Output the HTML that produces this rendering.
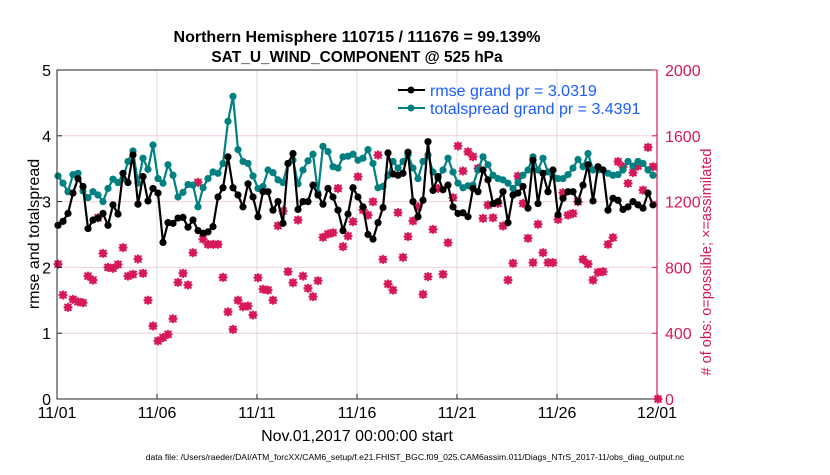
<!DOCTYPE html>
<html><head><meta charset="utf-8"><style>
body{margin:0;background:#fff;width:830px;height:470px;overflow:hidden}
text{font-family:"Liberation Sans",sans-serif}
</style></head><body>
<svg id="chart" width="830" height="470" xmlns="http://www.w3.org/2000/svg">
<rect width="830" height="470" fill="#fff"/>
<text x="357" y="42" text-anchor="middle" font-size="16" font-weight="bold">Northern Hemisphere 110715 / 111676 = 99.139%</text>
<text x="357" y="62" text-anchor="middle" font-size="15.5" font-weight="bold">SAT_U_WIND_COMPONENT @ 525 hPa</text>
<g id="grid"></g>
<g id="marks"></g>
<g id="axes"></g>
<text transform="translate(39,234) rotate(-90)" text-anchor="middle" font-size="16">rmse and totalspread</text>
<text transform="translate(711,262) rotate(-90)" text-anchor="middle" font-size="14.5" fill="#d6195a">#  of obs: o=possible; ×=assimilated</text>
<text x="357" y="441" text-anchor="middle" font-size="16">Nov.01,2017 00:00:00 start</text>
<text x="415" y="460" text-anchor="middle" font-size="8.6">data file: /Users/raeder/DAI/ATM_forcXX/CAM6_setup/f.e21.FHIST_BGC.f09_025.CAM6assim.011/Diags_NTrS_2017-11/obs_diag_output.nc</text>
<g id="legend">
<line x1="398" y1="90" x2="425" y2="90" stroke="#000" stroke-width="2"/><circle cx="411" cy="90" r="3.5" fill="#000"/>
<text x="430" y="96" font-size="16" fill="#1a5cff">rmse grand pr = 3.0319</text>
<line x1="398" y1="108" x2="425" y2="108" stroke="#008080" stroke-width="2"/><circle cx="411" cy="108" r="3.5" fill="#008080"/>
<text x="430" y="114" font-size="16" fill="#1a5cff">totalspread grand pr = 3.4391</text>
</g>
</svg>
<script>
const rmse=[2.64,2.70,2.82,3.13,3.35,3.23,2.59,2.72,2.75,2.82,2.64,2.95,2.81,3.43,3.29,3.71,2.96,3.38,3.01,3.20,3.13,2.38,2.68,2.67,2.75,2.76,2.61,2.72,2.56,2.52,2.54,2.62,3.07,3.21,3.68,3.21,3.10,2.92,3.27,3.07,2.77,3.15,3.15,2.87,3.00,2.67,3.58,3.73,2.88,3.00,3.00,3.25,3.10,2.96,3.20,3.07,2.87,2.56,2.81,3.21,3.07,
2.92,2.50,2.43,2.68,2.91,3.74,3.42,3.40,3.43,3.75,3.00,2.77,3.02,3.91,3.17,3.38,3.18,3.25,2.92,2.82,2.83,2.77,3.20,3.15,3.48,3.33,2.97,3.00,3.15,2.68,3.10,3.13,3.23,2.90,3.63,2.97,3.43,3.15,3.48,2.80,3.05,3.15,3.15,3.00,3.25,3.56,3.01,3.53,3.48,2.87,3.05,3.02,2.88,2.92,3.00,2.95,2.90,3.13,2.95];
const spread=[3.39,3.28,3.15,3.41,3.43,3.16,3.06,3.15,3.10,3.00,3.20,3.34,3.29,3.35,3.61,3.77,3.28,3.66,3.49,3.86,3.35,3.28,3.56,3.40,3.07,3.14,3.26,3.25,2.92,3.21,3.35,3.45,3.43,3.58,4.22,4.60,3.79,3.61,3.58,3.39,3.20,3.23,3.48,3.44,3.33,3.29,3.58,3.63,3.27,3.48,3.62,3.72,3.13,3.84,3.76,3.53,3.51,3.68,3.69,3.72,3.63,
3.66,3.79,3.58,3.21,3.23,3.40,3.61,3.51,3.61,3.71,3.51,3.35,3.61,3.71,3.45,3.35,3.48,3.66,3.45,3.28,3.21,3.24,3.25,3.48,3.68,3.56,3.40,3.35,3.33,3.28,3.20,3.29,3.40,3.48,3.68,3.48,3.66,3.45,3.38,3.35,3.35,3.41,3.51,3.64,3.53,3.73,3.48,3.48,3.48,3.43,3.40,3.41,3.48,3.61,3.54,3.61,3.58,3.48,3.40];
const obs=[820,632,557,606,591,585,747,723,1102,885,800,794,818,920,747,758,851,764,600,444,353,373,393,488,709,764,693,889,1317,972,940,940,940,739,530,423,600,561,565,511,737,667,662,600,1053,1143,774,707,1088,747,673,622,719,983,1003,1011,1280,926,991,1078,1351,
1149,1118,1199,1483,849,699,662,1133,861,987,1082,1169,636,744,1031,1280,758,950,1224,1538,1386,1503,1473,1402,1098,1179,1102,1189,1052,723,825,1355,1189,977,829,1062,889,829,829,1092,1254,1118,1128,1199,849,821,723,770,774,940,981,1443,1412,1311,1376,1416,1270,1530,1412,0];
const xTicks=['11/01','11/06','11/11','11/16','11/21','11/26','12/01'];
const yLeftTicks=[0,1,2,3,4,5];
const yRightTicks=[0,400,800,1200,1600,2000];
const X0=57,X1=657,Y0=399,Y1=70,DAYS=30;
const xs=i=>X0+(i/4)*(X1-X0)/DAYS+1;
const yl=v=>Y0-v/5*(Y0-Y1);
const yr=v=>Y0-v/2000*(Y0-Y1);
const NS='http://www.w3.org/2000/svg';
function mk(p,t,a){const e=document.createElementNS(NS,t);for(const k in a)e.setAttribute(k,a[k]);p.appendChild(e);return e;}
const grid=document.getElementById('grid'),marks=document.getElementById('marks'),axes=document.getElementById('axes');
yRightTicks.forEach((t,i)=>{if(i==0||i==yRightTicks.length-1)return;const l=mk(grid,'line',{x1:X0,x2:X1,y1:yr(t),y2:yr(t),stroke:'#f0d0dc','stroke-width':1});

});
xTicks.forEach((t,i)=>{const x=X0+i*(X1-X0)/6;
if(i>0&&i<6){const l=mk(grid,'line',{x1:x,x2:x,y1:Y1,y2:Y0,stroke:'#dcdcdc','stroke-width':1});

}
mk(axes,'line',{x1:x,x2:x,y1:Y0,y2:Y0-5,stroke:'#222'});
const tx=mk(axes,'text',{x:x,y:418,'text-anchor':'middle','font-size':16});tx.textContent=t;

});
obs.forEach((v,i)=>{const x=xs(i),y=yr(v);const g=mk(marks,'g',{});


mk(g,'circle',{cx:x,cy:y,r:3,fill:'none',stroke:'#d6195a','stroke-width':1.5});
mk(g,'path',{d:`M${x-3.5} ${y-3.5}L${x+3.5} ${y+3.5}M${x-3.5} ${y+3.5}L${x+3.5} ${y-3.5}M${x} ${y-4.5}V${y+4.5}M${x-4.5} ${y}H${x+4.5}`,stroke:'#d6195a','stroke-width':1.8});});
function series(arr,col,name){const pts=arr.map((v,i)=>xs(i)+','+yl(v)).join(' ');
const pl=mk(marks,'polyline',{points:pts,fill:'none',stroke:col,'stroke-width':2.2});


arr.forEach((v,i)=>{const c=mk(marks,'circle',{cx:xs(i),cy:yl(v),r:3.6,fill:col});

});}
series(spread,'#008080','totalspread');
series(rmse,'#000','rmse');
mk(axes,'rect',{x:X0,y:Y1,width:X1-X0,height:Y0-Y1,fill:'none',stroke:'#222','stroke-width':1});
mk(axes,'line',{x1:X1,x2:X1,y1:Y1,y2:Y0,stroke:'#d6195a','stroke-width':1.2});
yLeftTicks.forEach(t=>{const y=yl(t);mk(axes,'line',{x1:X0,x2:X0+5,y1:y,y2:y,stroke:'#222'});
const tx=mk(axes,'text',{x:51,y:y+6,'text-anchor':'end','font-size':16});tx.textContent=t;

});
yRightTicks.forEach(t=>{const y=yr(t);mk(axes,'line',{x1:X1-5,x2:X1,y1:y,y2:y,stroke:'#d6195a'});
const tx=mk(axes,'text',{x:665,y:y+6,'font-size':16,fill:'#d6195a'});tx.textContent=t;

});
</script>
</body></html>
